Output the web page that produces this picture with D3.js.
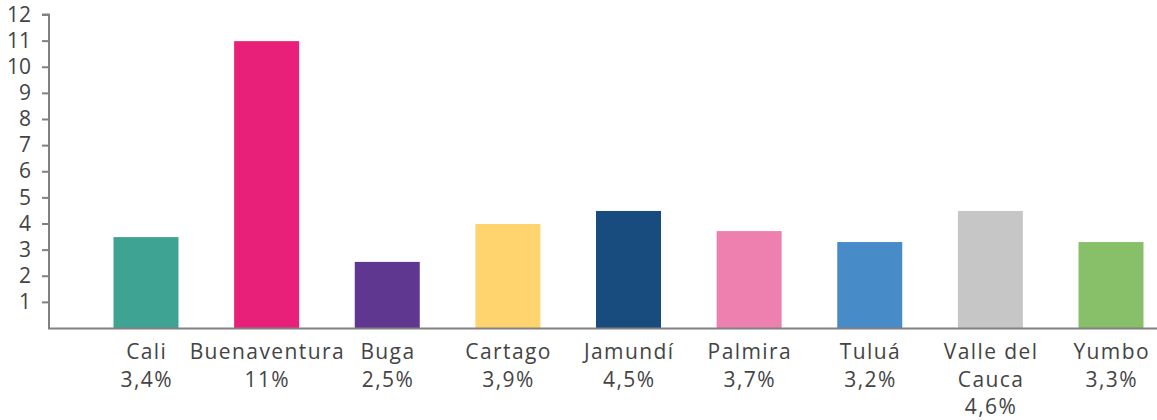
<!DOCTYPE html>
<html><head><meta charset="utf-8">
<script src="https://cdn.jsdelivr.net/npm/d3@7"></script>
<style>
body{margin:0;background:#fff;}
text{font-family:"Open Sans",sans-serif;fill:#444;}
</style></head>
<body><svg id="c" width="1157" height="420"></svg>
<script>
const categories = ["Cali","Buenaventura","Buga","Cartago","Jamundí","Palmira","Tuluá","Valle del Cauca","Yumbo"];
const labelLines = [["Cali"],["Buenaventura"],["Buga"],["Cartago"],["Jamundí"],["Palmira"],["Tuluá"],["Valle del","Cauca"],["Yumbo"]];
const percentLabels = ["3,4%","11%","2,5%","3,9%","4,5%","3,7%","3,2%","4,6%","3,3%"];
const values = [3.48,10.98,2.53,3.98,4.48,3.71,3.29,4.48,3.29];
const colors = ["#3FA394","#E8207A","#5F3690","#FFD46E","#184C7E","#EE80AF","#488BC9","#C6C6C6","#88C06A"];
const yTicks = [1,2,3,4,5,6,7,8,9,10,11,12];

const svg = d3.select("#c");
const axisX = 49, base = 328;
const y = d3.scaleLinear().domain([0,12]).range([base,14.5]);
const x = d3.scalePoint().domain(categories).range([146,1111]);
const bw = 65;

svg.selectAll("rect.bar").data(values).join("rect")
  .attr("class","bar")
  .attr("x",(d,i)=>x(categories[i])-bw/2)
  .attr("y",d=>y(d))
  .attr("width",bw)
  .attr("height",d=>base-y(d))
  .attr("fill",(d,i)=>colors[i]);

// y axis
const yAxis = d3.axisLeft(y).tickValues(yTicks).tickSize(7).tickPadding(11).tickFormat(d3.format("d"));
const gy = svg.append("g").attr("transform",`translate(${axisX},0)`).call(yAxis);
gy.select(".domain").attr("stroke","#808080").attr("stroke-width",2).attr("d",`M-7,${y(12)}H0V${base}`);
gy.selectAll(".tick line").attr("stroke","#808080").attr("stroke-width",2);
gy.selectAll(".tick text").style("font-size","21px").attr("fill","#444").style("font-family","'Open Sans',sans-serif");

// baseline
svg.append("line").attr("x1",axisX-1).attr("x2",1157).attr("y1",base+0.5).attr("y2",base+0.5)
  .attr("stroke","#808080").attr("stroke-width",2);

// category labels
const lab = svg.append("g").selectAll("text").data(categories).join("text")
  .attr("text-anchor","middle")
  .attr("x",d=>x(d))
  .attr("y",359)
  .style("font-size","21px")
  .style("letter-spacing","1.4px");
lab.each(function(d,i){
  const t = d3.select(this);
  const lines = labelLines[i].concat([percentLabels[i]]);
  lines.forEach((l,j)=>{
    t.append("tspan").attr("x",x(d)+0.7).attr("dy",j===0?0:27.5).text(l);
  });
});
</script></body></html>
